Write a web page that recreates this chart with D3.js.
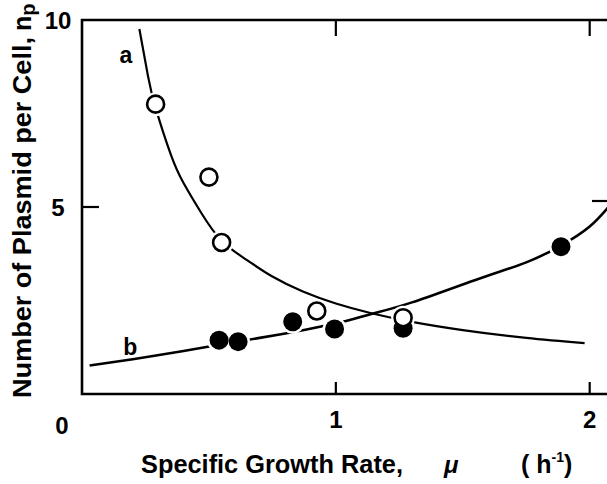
<!DOCTYPE html>
<html>
<head>
<meta charset="utf-8">
<script src="https://cdn.jsdelivr.net/npm/d3@7"></script>
<style>
  html, body { margin: 0; padding: 0; background: #fff; }
  svg { display: block; }
  text { font-family: "Liberation Sans", Arial, Helvetica, sans-serif; font-weight: bold; fill: #000; }
</style>
</head>
<body>
<svg id="chart" width="607" height="484"></svg>
<script>
// ---- data ----
const xTicks = [1, 2];
const yTicks = [5, 10];
const openPoints = [[0.29, 7.75], [0.50, 5.80], [0.55, 4.05], [0.925, 2.22], [1.265, 2.04]];
const filledPoints = [[0.54, 1.44], [0.615, 1.40], [0.83, 1.93], [0.995, 1.74], [1.265, 1.76], [1.887, 3.94]];
const curveA = [[0.226, 9.76], [0.26, 8.5], [0.29, 7.65], [0.35, 6.4], [0.40, 5.64], [0.47, 4.84],
  [0.55, 4.1], [0.65, 3.58], [0.75, 3.14], [0.87, 2.74], [1.0, 2.42], [1.14, 2.16],
  [1.3, 1.93], [1.5, 1.71], [1.75, 1.50], [1.98, 1.36]];
const curveB = [[0.03, 0.76], [0.2, 0.93], [0.4, 1.15], [0.55, 1.33], [0.7, 1.50], [0.88, 1.72],
  [1.04, 1.95], [1.14, 2.14], [1.3, 2.45], [1.55, 3.05], [1.75, 3.52], [1.887, 3.97],
  [2.0, 4.48], [2.08, 5.05]];
const curveLabels = [["a", 0.173, 9.06], ["b", 0.19, 1.27]];

// ---- scales ----
const svg = d3.select("#chart");
const x = d3.scaleLinear().domain([0, 2.08]).range([82, 610]);
const y = d3.scaleLinear().domain([0, 10]).range([394, 20]);

// ---- frame ----
svg.append("path")
  .attr("d", `M${x(2.08)},${y(10)} L${x(0)},${y(10)} L${x(0)},${y(0)} L${x(2.08)},${y(0)}`)
  .attr("fill", "none").attr("stroke", "#000").attr("stroke-width", 2.6)
  .attr("stroke-linejoin", "miter");

// ticks
const tk = svg.append("g").attr("stroke", "#000").attr("stroke-width", 2.2);
xTicks.forEach(v => {
  tk.append("line").attr("x1", x(v)).attr("x2", x(v)).attr("y1", y(0)).attr("y2", y(0) - 12);
  tk.append("line").attr("x1", x(v)).attr("x2", x(v)).attr("y1", y(10)).attr("y2", y(10) + 16);
});
yTicks.filter(v => v < 10).forEach(v => {
  tk.append("line").attr("x1", x(0)).attr("x2", x(0) + 17).attr("y1", y(v)).attr("y2", y(v));
  tk.append("line").attr("x1", x(2.08)).attr("x2", x(2.08) - 18).attr("y1", y(v) - 6).attr("y2", y(v) - 6);
});

// tick labels
xTicks.forEach(v => {
  svg.append("text").attr("x", x(v)).attr("y", 428).attr("text-anchor", "middle")
    .attr("font-size", 24).text(v);
});
svg.append("text").attr("x", x(0) - 20).attr("y", 434).attr("text-anchor", "middle")
  .attr("font-size", 24).text("0");
yTicks.forEach(v => {
  svg.append("text").attr("x", 58).attr("y", y(v) + 9).attr("text-anchor", "middle")
    .attr("font-size", 24).text(v);
});

// ---- curves ----
const line = d3.line().x(d => x(d[0])).y(d => y(d[1])).curve(d3.curveNatural);
svg.append("path").attr("d", line(curveA)).attr("fill", "none").attr("stroke", "#000").attr("stroke-width", 2.2);
svg.append("path").attr("d", line(curveB)).attr("fill", "none").attr("stroke", "#000").attr("stroke-width", 2.6);

// halos (gaps in the lines round each marker)
const allPts = filledPoints.concat(openPoints);
svg.append("g").selectAll("circle").data(allPts).join("circle")
  .attr("cx", d => x(d[0])).attr("cy", d => y(d[1])).attr("r", 12).attr("fill", "#fff");

// filled markers
svg.append("g").selectAll("circle").data(filledPoints).join("circle")
  .attr("cx", d => x(d[0])).attr("cy", d => y(d[1])).attr("r", 9.5).attr("fill", "#000");

// open markers
svg.append("g").selectAll("circle").data(openPoints).join("circle")
  .attr("cx", d => x(d[0])).attr("cy", d => y(d[1])).attr("r", 8.5)
  .attr("fill", "#fff").attr("stroke", "#000").attr("stroke-width", 2.6);

// curve labels
curveLabels.forEach(([t, vx, vy]) => {
  svg.append("text").attr("x", x(vx)).attr("y", y(vy) + 8).attr("text-anchor", "middle")
    .attr("font-size", 23).text(t);
});

// ---- axis titles ----
svg.append("text").attr("x", 141).attr("y", 473).attr("font-size", 26)
  .attr("textLength", 262).attr("lengthAdjust", "spacingAndGlyphs")
  .text("Specific Growth Rate,");
svg.append("text").attr("x", 444).attr("y", 473).attr("font-size", 24)
  .attr("font-style", "italic").attr("font-weight", "normal").attr("font-family", "'DejaVu Serif', serif")
  .text("μ");
const unit = svg.append("text").attr("x", 521).attr("y", 473).attr("font-size", 25);
unit.append("tspan").text("( h");
unit.append("tspan").attr("font-size", 14).attr("dy", -11).text("-1");
unit.append("tspan").attr("dy", 11).text(")");

const yt = svg.append("text").attr("transform", "translate(31,398) rotate(-90)").attr("font-size", 25);
yt.append("tspan").attr("textLength", 361).attr("lengthAdjust", "spacingAndGlyphs")
  .text("Number of Plasmid per Cell,");
yt.append("tspan").attr("x", 367).text("n");
yt.append("tspan").attr("font-size", 20).attr("dy", 4).text("p");
</script>
</body>
</html>
